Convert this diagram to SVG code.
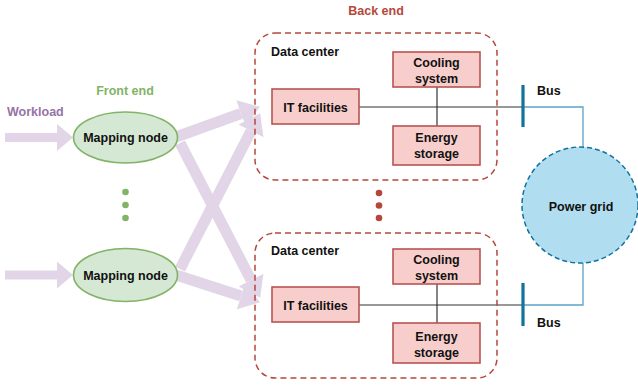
<svg xmlns="http://www.w3.org/2000/svg" width="638" height="385" viewBox="0 0 638 385">
<defs>
<style>
text{font-family:"Liberation Sans",Arial,sans-serif;font-weight:bold;font-size:12.5px;fill:#111;}
.c{text-anchor:middle;}
.ell{fill:#d5e8d4;stroke:#82b366;stroke-width:1.6;}
.box{fill:#f8cecc;stroke:#b85450;stroke-width:1.6;}
.dc{fill:none;stroke:#b5473a;stroke-width:1.5;stroke-dasharray:6 4;}
.flow{stroke:#e1d5e7;stroke-width:11;fill:none;}
.wire{stroke:#333;stroke-width:1.2;fill:none;}
.bl{stroke:#5aa2c8;stroke-width:1.3;fill:none;}
.bus{stroke:#10739e;stroke-width:3.2;}
.rd{fill:#b5473a;}
.gd{fill:#82b366;}
</style>
<marker id="ah" markerUnits="userSpaceOnUse" markerWidth="20" markerHeight="28" viewBox="0 0 20 28" refX="0" refY="14" orient="auto">
<path d="M0,0 L20,14 L0,28 z" fill="#e1d5e7"/>
</marker>
<marker id="wh" markerUnits="userSpaceOnUse" markerWidth="16" markerHeight="27" viewBox="0 0 16 27" refX="0" refY="13.5" orient="auto">
<path d="M0,0 L16,13.5 L0,27 z" fill="#e1d5e7"/>
</marker>
</defs>

<g id="connectors">
<line class="flow" style="stroke-width:9" x1="5" y1="137.5" x2="57" y2="137.5" marker-end="url(#wh)"/>
<line class="flow" style="stroke-width:9" x1="5" y1="275" x2="57" y2="275" marker-end="url(#wh)"/>
<line class="flow" x1="176" y1="137" x2="241" y2="113.5" marker-end="url(#ah)"/>
<line class="flow" x1="180" y1="143" x2="251" y2="280" marker-end="url(#ah)"/>
<line class="flow" x1="180" y1="269" x2="251" y2="131" marker-end="url(#ah)"/>
<line class="flow" x1="176" y1="275" x2="241" y2="296" marker-end="url(#ah)"/>
<line class="wire" x1="359" y1="107" x2="523" y2="107"/>
<line class="wire" x1="437" y1="87" x2="437" y2="126"/>
<line class="wire" x1="359" y1="305" x2="523" y2="305"/>
<line class="wire" x1="437" y1="284" x2="437" y2="323"/>
<polyline class="bl" points="523,107 583,107 583,147"/>
<polyline class="bl" points="583,263 583,305 523,305"/>
</g>

<g id="front-end-label"><text class="c" x="125" y="95" style="fill:#82b366">Front end</text></g>
<g id="workload-label"><text x="7" y="116" style="fill:#9673a6">Workload</text></g>
<g id="back-end-label"><text class="c" x="376" y="15" style="fill:#b5473a">Back end</text></g>

<g id="mapping-node-1">
<ellipse class="ell" cx="125.5" cy="137.5" rx="52" ry="25.5"/>
<text class="c" x="125.5" y="142">Mapping node</text>
</g>
<g id="mapping-node-2">
<ellipse class="ell" cx="125.5" cy="275" rx="52" ry="26.5"/>
<text class="c" x="125.5" y="279.5">Mapping node</text>
</g>
<g id="front-dots">
<circle class="gd" cx="125.5" cy="192" r="3.3"/>
<circle class="gd" cx="125.5" cy="205" r="3.3"/>
<circle class="gd" cx="125.5" cy="218" r="3.3"/>
</g>

<g id="data-center-1">
<rect class="dc" x="255" y="33" width="242" height="147" rx="20"/>
<text x="271" y="56">Data center</text>
</g>
<g id="it-1">
<rect class="box" x="272" y="89" width="87" height="35"/>
<text class="c" x="315.5" y="111.5">IT facilities</text>
</g>
<g id="cooling-1">
<rect class="box" x="393" y="52" width="87" height="35"/>
<text class="c" x="436.5" y="67">Cooling</text>
<text class="c" x="436.5" y="83">system</text>
</g>
<g id="storage-1">
<rect class="box" x="393" y="126" width="87" height="39"/>
<text class="c" x="436.5" y="142">Energy</text>
<text class="c" x="436.5" y="158">storage</text>
</g>

<g id="back-dots">
<circle class="rd" cx="379" cy="193" r="3.3"/>
<circle class="rd" cx="379" cy="205.5" r="3.3"/>
<circle class="rd" cx="379" cy="218" r="3.3"/>
</g>

<g id="data-center-2">
<rect class="dc" x="255" y="233" width="242" height="145" rx="20"/>
<text x="271" y="255">Data center</text>
</g>
<g id="it-2">
<rect class="box" x="272" y="287" width="87" height="35"/>
<text class="c" x="315.5" y="309.5">IT facilities</text>
</g>
<g id="cooling-2">
<rect class="box" x="393" y="249" width="87" height="35"/>
<text class="c" x="436.5" y="264">Cooling</text>
<text class="c" x="436.5" y="280">system</text>
</g>
<g id="storage-2">
<rect class="box" x="393" y="323" width="87" height="40"/>
<text class="c" x="436.5" y="341">Energy</text>
<text class="c" x="436.5" y="357">storage</text>
</g>

<g id="bus-1">
<line class="bus" x1="523" y1="85" x2="523" y2="127"/>
<text x="537" y="95">Bus</text>
</g>
<g id="bus-2">
<line class="bus" x1="523" y1="283" x2="523" y2="326"/>
<text x="537" y="327">Bus</text>
</g>

<g id="power-grid">
<circle cx="580" cy="205" r="58" fill="#b1ddf0" stroke="#10739e" stroke-width="1.5" stroke-dasharray="5 3"/>
<text class="c" x="581" y="211">Power grid</text>
</g>
</svg>
